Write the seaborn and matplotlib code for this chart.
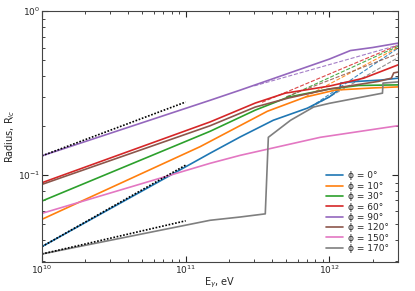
import pandas as pd
import matplotlib.pyplot as plt
import seaborn as sns

# phase angles of the curves
angles = [0, 10, 30, 60, 90, 120, 150, 170]
labels = ['ϕ = %d°' % a for a in angles]

# solid curves
E_0 = [1e10, 1.48e11, 2.4e11, 4.07e11, 7.03e11, 1e12, 1.18e12, 1.2e12, 1.5e12, 2.3e12, 3e12]
R_0 = [0.0366, 0.136, 0.171, 0.216, 0.256, 0.30, 0.335, 0.364, 0.372, 0.38, 0.39]
E_10 = [1e10, 1.26e11, 3.7e11, 6.8e11, 1.1e12, 2e12, 3e12]
R_10 = [0.0537, 0.149, 0.245, 0.299, 0.33, 0.34, 0.345]
E_30 = [1e10, 1.48e11, 3.05e11, 5.18e11, 1e12, 1.6e12, 3e12]
R_30 = [0.0694, 0.185, 0.249, 0.299, 0.335, 0.352, 0.355]
E_60 = [1e10, 1.48e11, 3.05e11, 4.93e11, 1e12, 1.73e12, 3e12]
R_60 = [0.0898, 0.211, 0.275, 0.316, 0.349, 0.39, 0.47]
E_90 = [1e10, 1.48e11, 2.4e11, 1e12, 1.4e12, 2e12, 3e12]
R_90 = [0.131, 0.286, 0.33, 0.51, 0.575, 0.60, 0.638]
E_120 = [1e10, 1.48e11, 3.05e11, 5.18e11, 1e12, 2.2e12, 2.7e12, 2.8e12, 3e12]
R_120 = [0.0877, 0.200, 0.26, 0.295, 0.335, 0.373, 0.39, 0.42, 0.425]
E_150 = [1e10, 1.48e11, 2.4e11, 8.65e11, 3e12]
R_150 = [0.0584, 0.118, 0.132, 0.17, 0.20]
E_170 = [1e10, 1.48e11, 2.4e11, 3.58e11, 3.76e11, 5.37e11, 7.76e11, 1e12, 2.34e12, 2.36e12, 3e12]
R_170 = [0.033, 0.053, 0.0555, 0.058, 0.17, 0.216, 0.26, 0.274, 0.316, 0.364, 0.37]

E_all = [E_0, E_10, E_30, E_60, E_90, E_120, E_150, E_170]
R_all = [R_0, R_10, R_30, R_60, R_90, R_120, R_150, R_170]

# dashed extrapolations: start point and value at the right edge
dash_angles = [90, 60, 30, 10, 0, 120, 170]
dash_E0 = [3e11, 3.4e11, 5.1e11, 6.8e11, 7.4e11, 5.0e11, 7.4e11]
dash_R0 = [0.35, 0.278, 0.30, 0.30, 0.26, 0.30, 0.258]
dash_E1 = 3e12
dash_R1 = [0.62, 0.62, 0.61, 0.60, 0.594, 0.55, 0.52]

# dotted black power-law fits
fit_E = [1e10, 1e11]
fit_R = [[0.131, 0.279], [0.0366, 0.115], [0.033, 0.0526]]

rows = []
for lab, es, rs in zip(labels, E_all, R_all):
    for e, r in zip(es, rs):
        rows.append({'E': e, 'R': r, 'phi': lab})
df = pd.DataFrame(rows)

drows = []
for a, e0, r0, r1 in zip(dash_angles, dash_E0, dash_R0, dash_R1):
    lab = labels[angles.index(a)]
    drows.append({'E': e0, 'R': r0, 'phi': lab})
    drows.append({'E': dash_E1, 'R': r1, 'phi': lab})
ddf = pd.DataFrame(drows)

sns.set_style('ticks', {'xtick.direction': 'in', 'ytick.direction': 'in',
                        'axes.edgecolor': '#444444'})
plt.rcParams['font.family'] = ['DejaVu Sans']
plt.rcParams['font.size'] = 6.5
plt.rcParams['xtick.top'] = True
plt.rcParams['ytick.right'] = True

palette = dict(zip(labels, sns.color_palette('tab10', 8)))

fig = plt.figure(figsize=(4.15, 2.91), dpi=100)
ax = fig.add_axes([0.101, 0.0997, 0.858, 0.862])

sns.lineplot(data=ddf, x='E', y='R', hue='phi', hue_order=[l for l in labels if l in set(ddf['phi'])],
             palette=palette, estimator=None, linestyle='--', linewidth=0.8, alpha=0.85,
             legend=False, ax=ax)
sns.lineplot(data=df, x='E', y='R', hue='phi', hue_order=labels, palette=palette,
             estimator=None, linewidth=1.2, ax=ax)
for fr in fit_R:
    ax.plot(fit_E, fr, color='black', linestyle=(0, (1, 1)), linewidth=1.2)

ax.set_xscale('log')
ax.set_yscale('log')
ax.set_xlim(1e10, 3e12)
ax.set_ylim(0.0295, 1)
ax.set_xlabel(r'E$_\gamma$, eV', fontsize=7, labelpad=0)
ax.set_ylabel(r'Radius, R$_{lc}$', fontsize=7, labelpad=1)
ax.tick_params(which='major', length=4, labelsize=6.5, pad=1)
ax.tick_params(which='minor', length=2)

leg = ax.legend(loc='lower right', frameon=False, fontsize=6.5, labelspacing=0.15,
                handlelength=1.8, handletextpad=0.6, borderaxespad=0.6)

fig.savefig('out.png', dpi=100)
